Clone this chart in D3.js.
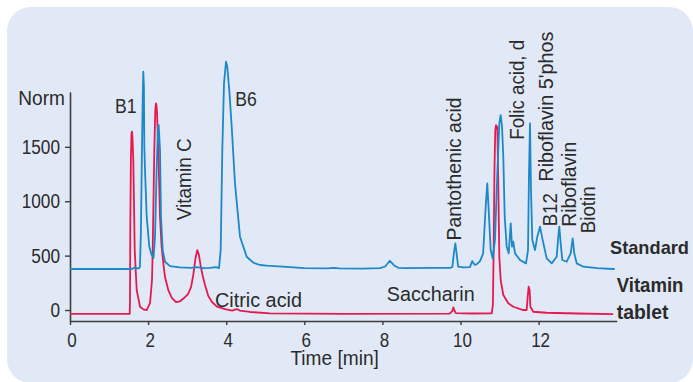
<!DOCTYPE html>
<html><head><meta charset="utf-8">
<script src="https://cdn.jsdelivr.net/npm/d3@7"></script>
<style>
html,body{margin:0;padding:0;background:#fff;}
svg{display:block;}
text{font-family:"Liberation Sans",Arial,sans-serif;fill:#2b2b2b;}
</style></head>
<body>
<svg id="c" width="693" height="382"></svg>
<script>
// ---- data ----
const stdTime = [0,1.40,1.60,1.65,1.70,1.76,1.79,1.815,1.84,1.862,1.877,1.893,1.903,1.921,1.964,2.031,2.092,2.14,2.177,2.220,2.254,2.271,2.305,2.330,2.374,2.433,2.561,2.817,3.10,3.245,3.40,3.585,3.739,3.816,3.859,3.900,3.944,3.995,4.028,4.079,4.141,4.225,4.353,4.525,4.694,4.866,5.04,5.45,6.0,6.6,6.75,6.9,7.5,7.94,8.07,8.19,8.30,8.41,8.62,9.3,9.75,9.79,9.83,9.867,9.90,9.94,10.07,10.24,10.30,10.36,10.41,10.50,10.58,10.645,10.686,10.73,10.773,10.824,10.883,10.943,10.994,11.029,11.063,11.096,11.132,11.183,11.234,11.286,11.319,11.352,11.396,11.524,11.677,11.729,11.754,11.780,11.805,11.839,11.908,11.967,12.036,12.105,12.207,12.335,12.463,12.504,12.530,12.566,12.607,12.72,12.822,12.873,12.914,12.976,13.145,13.5,13.913,13.95];
const stdValue = [377,377,379,392,384,382,395,700,1400,1950,2190,2050,1500,1287,858,582,505,480,674,1317,1685,1700,1470,858,551,444,404,392,388,395,386,387,395,385,551,1470,2083,2282,2236,2022,1685,1164,674,490,435,414,408,398,385,382,388,382,380,386,400,453,410,388,386,387,388,395,520,613,520,398,392,395,450,415,420,450,521,950,1164,858,551,475,643,1256,1716,1792,1685,1409,858,582,521,797,582,628,521,460,429,551,1256,1716,1103,643,551,674,766,643,475,429,490,674,766,613,460,444,521,659,521,429,398,385,377,375];

const tabTime = [0,1.53,1.536,1.545,1.56,1.575,1.588,1.60,1.621,1.657,1.708,1.793,1.877,1.964,2.049,2.10,2.118,2.159,2.184,2.202,2.215,2.228,2.261,2.305,2.343,2.389,2.433,2.517,2.612,2.714,2.817,2.919,3.022,3.099,3.157,3.214,3.26,3.303,3.342,3.393,3.457,3.542,3.636,3.764,3.969,4.149,4.269,4.353,4.61,5.12,6.0,7.0,9.72,9.79,9.816,9.84,9.88,10.3,10.80,10.83,10.85,10.87,10.89,10.909,10.925,10.943,10.97,10.994,11.029,11.096,11.224,11.352,11.608,11.695,11.72,11.745,11.77,11.79,11.864,12.2,13.0,13.91];
const tabValue = [-35,-35,100,800,1400,1620,1640,1580,1379,551,184,30,6,0,64,276,551,1470,1838,1900,1880,1820,1470,858,597,432,303,184,110,72,80,110,147,211,322,478,551,505,414,322,230,129,74,32,9,-5,9,-5,-18,-30,-33,-35,-33,-10,25,0,-28,-32,-30,50,600,1300,1650,1700,1670,1685,1103,490,276,138,62,30,0,0,120,214,184,30,-16,-25,-32,-37];

const xTicks = [0,2,4,6,8,10,12];
const yTicks = [0,500,1000,1500];

const peakLabels = ["B1","B6"];
const peakLabelTime = [1.15,4.23];
const peakLabelValue = [1810,1875];

const rotLabels = ["Vitamin C","Pantothenic acid","Folic acid, d","Riboflavin 5'phos","B12","Riboflavin","Biotin"];
const rotLabelTime = [3.11,10.02,11.62,12.37,12.47,12.97,13.44];
const rotLabelValue = [825,640,1565,1180,770,765,705];
const rotLabelLen = [82,143,100,150,33,85,47];

const lowLabels = ["Citric acid","Saccharin"];
const lowLabelTime = [3.713,8.11];
const lowLabelValue = [30,85];
const lowLabelLen = [87,88];

// ---- layout ----
const svg = d3.select("#c");
svg.append("rect").attr("x",7).attr("y",7).attr("width",686).attr("height",376)
  .attr("rx",24).attr("ry",24).attr("fill","#e2e9f6");

const x = d3.scaleLinear().domain([0,14]).range([70,616.7]);
const y = d3.scaleLinear().domain([-100,2005]).range([320.9,91.9]);

const BLUE = "#1c88c8", RED = "#e6194f";

function condense(sel, f){
  sel.each(function(){ const w=this.getComputedTextLength(); d3.select(this).attr("textLength",w*f).attr("lengthAdjust","spacingAndGlyphs"); });
}

// axes
const gx = svg.append("g").attr("transform","translate(0,321)")
  .call(d3.axisBottom(x).tickValues(xTicks).tickSize(4).tickSizeOuter(0).tickPadding(8).tickFormat(d3.format("d")));
const gy = svg.append("g").attr("transform","translate(70,0)")
  .call(d3.axisLeft(y).tickValues(yTicks).tickSize(5).tickSizeOuter(0).tickPadding(5).tickFormat(d3.format("d")));
[gx,gy].forEach(g=>{
  g.select(".domain").attr("stroke","#3c3c3c").attr("stroke-width",1.6);
  g.selectAll(".tick line").attr("stroke","#3c3c3c").attr("stroke-width",1.4);
  g.selectAll(".tick text").attr("font-family","Liberation Sans, Arial, sans-serif").attr("font-size",20).attr("fill","#2b2b2b");
});
gx.selectAll(".tick text").attr("dx",1.5);
condense(gx.selectAll(".tick text"),0.85);
condense(gy.selectAll(".tick text"),0.86);

// lines
const line = d3.line().x(d=>x(d[0])).y(d=>y(d[1]));
svg.append("path").datum(tabTime.map((t,i)=>[t,tabValue[i]]))
  .attr("d",line).attr("fill","none").attr("stroke",RED).attr("stroke-width",1.8).attr("stroke-linejoin","round");
svg.append("path").datum(stdTime.map((t,i)=>[t,stdValue[i]]))
  .attr("d",line).attr("fill","none").attr("stroke",BLUE).attr("stroke-width",1.8).attr("stroke-linejoin","round");

// labels
function txt(xp,yp,s,opt={}){
  const t = svg.append("text").attr("x",xp).attr("y",yp).text(s)
    .attr("font-size",opt.size||20.5).attr("font-weight",opt.weight||"normal");
  if(opt.rot) t.attr("transform",`rotate(-90,${xp},${yp})`);
  if(opt.len) t.attr("textLength",opt.len).attr("lengthAdjust","spacingAndGlyphs");
  return t;
}
txt(18.3,105,"Norm",{len:46.7});
peakLabels.forEach((s,i)=>txt(x(peakLabelTime[i]),y(peakLabelValue[i]),s,{len:21.5}));
rotLabels.forEach((s,i)=>txt(x(rotLabelTime[i]),y(rotLabelValue[i]),s,{rot:true,len:rotLabelLen[i]}));
lowLabels.forEach((s,i)=>txt(x(lowLabelTime[i]),y(lowLabelValue[i]),s,{len:lowLabelLen[i]}));
txt(290.4,365.4,"Time [min]",{len:88.5});
txt(610,254,"Standard",{weight:"bold",size:19,len:79});
txt(616.7,291.7,"Vitamin",{weight:"bold",size:20,len:66.7});
txt(616.7,319,"tablet",{weight:"bold",size:20,len:51.7});
</script>
</body></html>
